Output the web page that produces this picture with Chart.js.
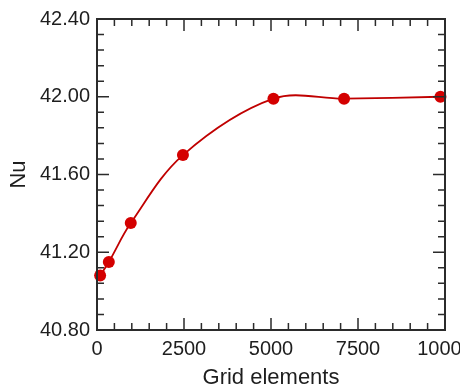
<!DOCTYPE html>
<html>
<head>
<meta charset="utf-8">
<script src="https://cdn.jsdelivr.net/npm/chart.js@4"></script>
<style>
  html, body { margin: 0; padding: 0; background: #fff; overflow: hidden; }
  canvas { display: block; }
</style>
</head>
<body>
<canvas id="chart_grid" width="480" height="389"></canvas>
<script>
// grid independence study: Nu against number of grid elements
const gridElements = [90, 340, 970, 2470, 5070, 7100, 9870];
const nuValues = [41.08, 41.15, 41.35, 41.70, 41.99, 41.99, 42.00];
const xTickValues = [0, 2500, 5000, 7500, 10000];
const yTickValues = [40.80, 41.20, 41.60, 42.00, 42.40];
const minorPerMajor = 5;

const frameColor = "#2b2b2b";
const textColor = "#1e1e1e";
const dotColor = "#d40000";
const lineColor = "#c00000";

Chart.defaults.font.family = "'Liberation Sans', Arial, sans-serif";

// box round the plot, ticks pointing inwards on every side
const frameTicks = {
    id: "frameTicks",
    afterDatasetsDraw(chart){
        const ctx = chart.ctx;
        const xs = chart.scales.x;
        const ys = chart.scales.y;
        const a = chart.chartArea;

        ctx.save();
        ctx.strokeStyle = frameColor;
        ctx.lineWidth = 1.5;

        const xStep = (xTickValues[1] - xTickValues[0]) / minorPerMajor;
        const xCount = (xTickValues.length - 1) * minorPerMajor;
        for(let i = 1; i < xCount; i++){
            const len = i % minorPerMajor === 0 ? 12 : 7;
            const px = xs.getPixelForValue(xTickValues[0] + i * xStep);
            ctx.beginPath();
            ctx.moveTo(px, a.bottom);
            ctx.lineTo(px, a.bottom - len);
            ctx.moveTo(px, a.top);
            ctx.lineTo(px, a.top + len);
            ctx.stroke();
        }

        const yStep = (yTickValues[1] - yTickValues[0]) / minorPerMajor;
        const yCount = (yTickValues.length - 1) * minorPerMajor;
        for(let i = 1; i < yCount; i++){
            const len = i % minorPerMajor === 0 ? 12 : 7;
            const py = ys.getPixelForValue(yTickValues[0] + i * yStep);
            ctx.beginPath();
            ctx.moveTo(a.left, py);
            ctx.lineTo(a.left + len, py);
            ctx.moveTo(a.right, py);
            ctx.lineTo(a.right - len, py);
            ctx.stroke();
        }

        ctx.lineWidth = 2;
        ctx.strokeRect(a.left, a.top, a.right - a.left, a.bottom - a.top);
        ctx.restore();
    }
};

const points = gridElements.map((g, i) => ({ x: g, y: nuValues[i] }));

const ctx_grid = document.querySelector("#chart_grid").getContext("2d");

const gridChart = new Chart(ctx_grid, {
    type: "line",
    data: {
        datasets: [{
            data: points,
            borderColor: lineColor,
            borderWidth: 1.8,
            backgroundColor: dotColor,
            pointBackgroundColor: dotColor,
            pointBorderWidth: 0,
            pointRadius: 6,
            tension: 0.35,
            clip: false
        }]
    },
    options: {
        responsive: false,
        animation: false,
        layout: { padding: { top: 15, right: 35, bottom: 0, left: 0 } },
        plugins: {
            legend: { display: false },
            tooltip: { enabled: false }
        },
        scales: {
            x: {
                type: "linear",
                min: xTickValues[0],
                max: xTickValues[xTickValues.length - 1],
                afterBuildTicks: s => { s.ticks = xTickValues.map(v => ({ value: v })); },
                afterFit: s => { s.height = 59; },
                grid: { display: false, drawTicks: false },
                border: { display: false },
                ticks: {
                    color: textColor,
                    font: { size: 20 },
                    padding: 7,
                    maxRotation: 0,
                    autoSkip: false,
                    callback: v => String(v)
                },
                title: {
                    display: true,
                    text: "Grid elements",
                    color: textColor,
                    font: { size: 22 },
                    padding: { top: 0, bottom: -2 }
                }
            },
            y: {
                min: yTickValues[0],
                max: yTickValues[yTickValues.length - 1],
                afterBuildTicks: s => { s.ticks = yTickValues.map(v => ({ value: v })); },
                afterFit: s => { s.width = 97; },
                grid: { display: false, drawTicks: false },
                border: { display: false },
                ticks: {
                    color: textColor,
                    font: { size: 20 },
                    padding: 7,
                    autoSkip: false,
                    callback: v => v.toFixed(2)
                },
                title: {
                    display: true,
                    text: "Nu",
                    color: textColor,
                    font: { size: 22 },
                    padding: { top: 6, bottom: 0 }
                }
            }
        }
    },
    plugins: [frameTicks]
});
</script>
</body>
</html>
